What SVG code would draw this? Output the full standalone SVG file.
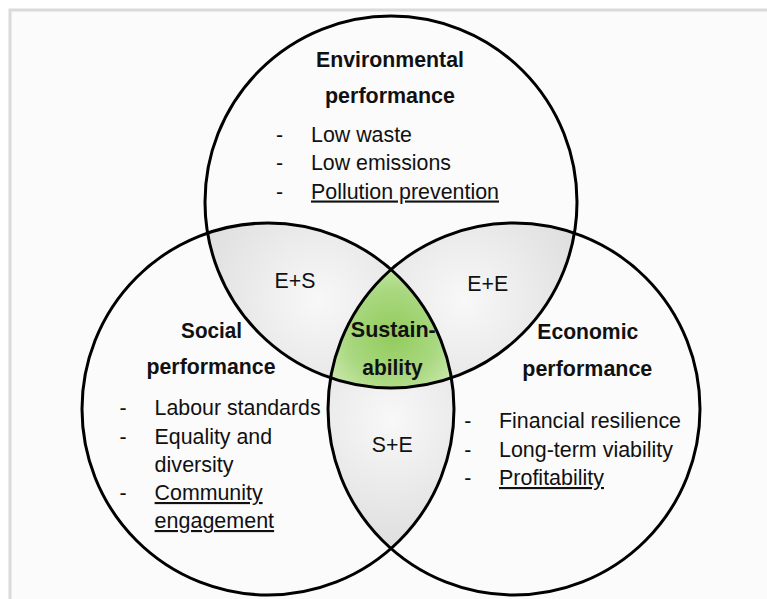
<svg xmlns="http://www.w3.org/2000/svg" width="767" height="599" viewBox="0 0 767 599">
  <style>
    text { font-family: "Liberation Sans", Arial, sans-serif; font-size: 21.3px; fill: #111; }
    .title { font-weight: bold; text-anchor: middle; }
    .mid { text-anchor: middle; }
    .u { text-decoration: underline; }
    .ring { fill: none; stroke: #000; stroke-width: 3; }
  </style>
  <defs>
    <clipPath id="clipTop"><circle cx="391" cy="202" r="186"/></clipPath>
    <clipPath id="clipLeft"><circle cx="268" cy="409" r="186"/></clipPath>
    <radialGradient id="lensES" gradientUnits="userSpaceOnUse" cx="318" cy="300" r="135">
      <stop offset="0" stop-color="#f8f8f8"/>
      <stop offset="1" stop-color="#dddddd"/>
    </radialGradient>
    <radialGradient id="lensEE" gradientUnits="userSpaceOnUse" cx="464" cy="300" r="135">
      <stop offset="0" stop-color="#f8f8f8"/>
      <stop offset="1" stop-color="#dddddd"/>
    </radialGradient>
    <radialGradient id="lensSE" gradientUnits="userSpaceOnUse" cx="391" cy="420" r="135">
      <stop offset="0" stop-color="#f8f8f8"/>
      <stop offset="1" stop-color="#dddddd"/>
    </radialGradient>
    <radialGradient id="core" gradientUnits="userSpaceOnUse" cx="392" cy="335" r="75">
      <stop offset="0" stop-color="#92cb5c"/>
      <stop offset="0.6" stop-color="#a9d880"/>
      <stop offset="1" stop-color="#cbe9ad"/>
    </radialGradient>
  </defs>

  <!-- page background and frame -->
  <rect x="0" y="0" width="767" height="599" fill="#ffffff"/>
  <rect x="10" y="10" width="770" height="600" fill="#fbfbfb" stroke="#dadada" stroke-width="3"/>

  <!-- overlap shading -->
  <g id="overlaps">
    <g clip-path="url(#clipTop)"><circle cx="268" cy="409" r="186" fill="url(#lensES)"/></g>
    <g clip-path="url(#clipTop)"><circle cx="514" cy="409" r="186" fill="url(#lensEE)"/></g>
    <g clip-path="url(#clipLeft)"><circle cx="514" cy="409" r="186" fill="url(#lensSE)"/></g>
    <g clip-path="url(#clipTop)"><g clip-path="url(#clipLeft)"><circle cx="514" cy="409" r="186" fill="url(#core)"/></g></g>
  </g>

  <!-- circle outlines -->
  <g id="environmental-circle"><circle class="ring" cx="391" cy="202" r="186"/></g>
  <g id="social-circle"><circle class="ring" cx="268" cy="409" r="186"/></g>
  <g id="economic-circle"><circle class="ring" cx="514" cy="409" r="186"/></g>

  <!-- Environmental -->
  <g id="environmental">
    <text class="title" x="390" y="66.5" textLength="148" lengthAdjust="spacingAndGlyphs">Environmental</text>
    <text class="title" x="390" y="103" textLength="130" lengthAdjust="spacingAndGlyphs">performance</text>
    <text class="mid" x="279.5" y="141.5">-</text>
    <text class="mid" x="279.5" y="170">-</text>
    <text class="mid" x="279.5" y="198.5">-</text>
    <text x="311" y="141.5" textLength="101" lengthAdjust="spacingAndGlyphs">Low waste</text>
    <text x="311" y="170" textLength="140" lengthAdjust="spacingAndGlyphs">Low emissions</text>
    <text class="u" x="311" y="198.5" textLength="188" lengthAdjust="spacingAndGlyphs">Pollution prevention</text>
  </g>

  <!-- Social -->
  <g id="social">
    <text class="title" x="211.6" y="337.7" textLength="61" lengthAdjust="spacingAndGlyphs">Social</text>
    <text class="title" x="211" y="374" textLength="129" lengthAdjust="spacingAndGlyphs">performance</text>
    <text class="mid" x="123" y="415">-</text>
    <text class="mid" x="123" y="443.5">-</text>
    <text class="mid" x="123" y="500">-</text>
    <text x="154.6" y="415" textLength="166" lengthAdjust="spacingAndGlyphs">Labour standards</text>
    <text x="154.6" y="443.5" textLength="117.5" lengthAdjust="spacingAndGlyphs">Equality and</text>
    <text x="154.6" y="471.5" textLength="79" lengthAdjust="spacingAndGlyphs">diversity</text>
    <text class="u" x="154.6" y="500" textLength="108" lengthAdjust="spacingAndGlyphs">Community</text>
    <text class="u" x="154.6" y="528" textLength="119.5" lengthAdjust="spacingAndGlyphs">engagement</text>
  </g>

  <!-- Economic -->
  <g id="economic">
    <text class="title" x="587.8" y="339.3" textLength="101" lengthAdjust="spacingAndGlyphs">Economic</text>
    <text class="title" x="587.3" y="376" textLength="130" lengthAdjust="spacingAndGlyphs">performance</text>
    <text class="mid" x="467.7" y="428.3">-</text>
    <text class="mid" x="467.7" y="456.7">-</text>
    <text class="mid" x="467.7" y="485">-</text>
    <text x="499" y="428.3" textLength="182" lengthAdjust="spacingAndGlyphs">Financial resilience</text>
    <text x="499" y="456.7" textLength="174" lengthAdjust="spacingAndGlyphs">Long-term viability</text>
    <text class="u" x="499" y="485" textLength="105" lengthAdjust="spacingAndGlyphs">Profitability</text>
  </g>

  <!-- overlap labels -->
  <g id="overlap-es"><text class="mid" x="295" y="288.3">E+S</text></g>
  <g id="overlap-ee"><text class="mid" x="487.8" y="291">E+E</text></g>
  <g id="overlap-se"><text class="mid" x="392.3" y="451.7">S+E</text></g>
  <g id="sustainability">
    <text class="title" x="393.3" y="337.3" textLength="85" lengthAdjust="spacingAndGlyphs">Sustain-</text>
    <text class="title" x="392.5" y="375" textLength="60.5" lengthAdjust="spacingAndGlyphs">ability</text>
  </g>
</svg>
